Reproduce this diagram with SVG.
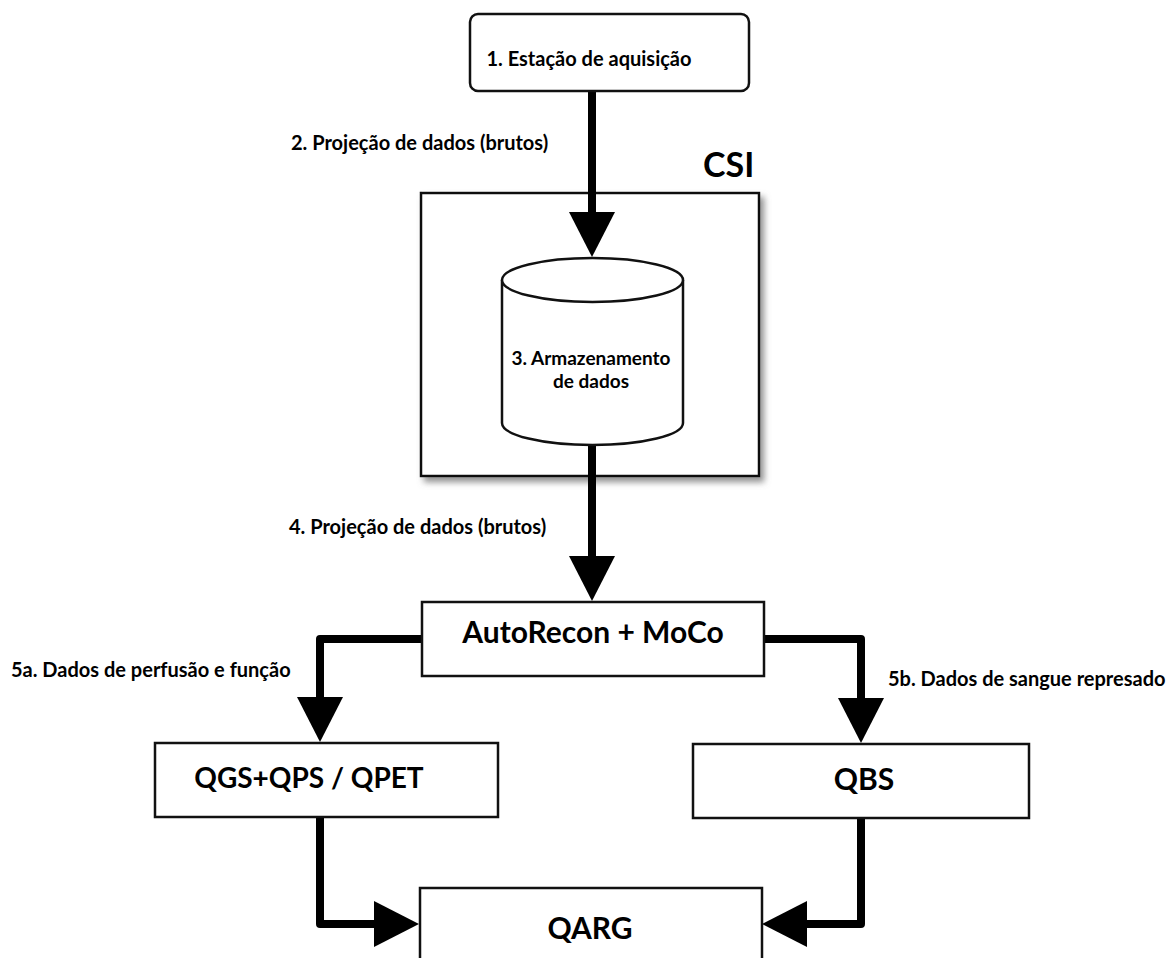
<svg xmlns="http://www.w3.org/2000/svg" width="1166" height="958" viewBox="0 0 1166 958">
  <style>
    .box { fill: #fff; stroke: #111; stroke-width: 2.5; }
    .conn { fill: none; stroke: #000; stroke-width: 8; stroke-linejoin: round; stroke-linecap: butt; }
    .t { font-family: Lato, "Open Sans", "Liberation Sans", sans-serif; font-weight: bold; fill: #000; }
    .s { font-size: 20px; }
    .b { font-size: 30px; }
  </style>
  <defs>
    <marker id="ah" markerUnits="userSpaceOnUse" markerWidth="46" markerHeight="46" refX="0" refY="23" orient="auto" overflow="visible">
      <path d="M0,0 L45,23 L0,46 Z" fill="#000"/>
    </marker>
    <filter id="sh" x="-10%" y="-10%" width="130%" height="130%">
      <feDropShadow dx="4" dy="5" stdDeviation="3" flood-color="#777" flood-opacity="0.8"/>
    </filter>
  </defs>
  <rect width="1166" height="958" fill="#fff"/>

  <g id="csi">
    <rect class="box" x="421" y="193" width="338" height="283" filter="url(#sh)"/>
    <text class="t" x="703" y="177" font-size="34">CSI</text>
  </g>

  <g id="connectors">
    <path class="conn" d="M592,91 V212" marker-end="url(#ah)"/>
    <path class="conn" d="M592,445 V556" marker-end="url(#ah)"/>
    <path class="conn" d="M422,639 H320 V697" marker-end="url(#ah)"/>
    <path class="conn" d="M764,639 H861 V698" marker-end="url(#ah)"/>
    <path class="conn" d="M320,817 V924 H374" marker-end="url(#ah)"/>
    <path class="conn" d="M861,818 V924 H807" marker-end="url(#ah)"/>
    <text class="t s" x="291" y="150">2. Projeção de dados (brutos)</text>
    <text class="t s" x="289" y="534">4. Projeção de dados (brutos)</text>
    <text class="t s" x="11" y="677">5a. Dados de perfusão e função</text>
    <text class="t s" x="888" y="686">5b. Dados de sangue represado</text>
  </g>

  <g id="n1">
    <rect class="box" x="470" y="14" width="279" height="77" rx="8"/>
    <text class="t s" x="589" y="66" text-anchor="middle">1. Estação de aquisição</text>
  </g>

  <g id="n3">
    <path class="box" d="M502,280 V423 A90.5,22 0 0 0 683,423 V280"/>
    <ellipse class="box" cx="592.5" cy="280" rx="90.5" ry="22"/>
    <text class="t" font-size="19" x="591" y="365" text-anchor="middle">3. Armazenamento</text>
    <text class="t" font-size="19" x="591" y="388" text-anchor="middle">de dados</text>
  </g>

  <g id="autorecon">
    <rect class="box" x="422" y="602" width="342" height="74"/>
    <text class="t b" x="593" y="643" text-anchor="middle">AutoRecon + MoCo</text>
  </g>

  <g id="qgs">
    <rect class="box" x="155" y="743" width="343" height="74"/>
    <text class="t" font-size="28" x="309" y="788" text-anchor="middle">QGS+QPS / QPET</text>
  </g>

  <g id="qbs">
    <rect class="box" x="693" y="744" width="336" height="74"/>
    <text class="t b" x="864" y="790" text-anchor="middle">QBS</text>
  </g>

  <g id="qarg">
    <rect class="box" x="420" y="888" width="342" height="80"/>
    <text class="t b" x="590" y="939" text-anchor="middle">QARG</text>
  </g>
</svg>
